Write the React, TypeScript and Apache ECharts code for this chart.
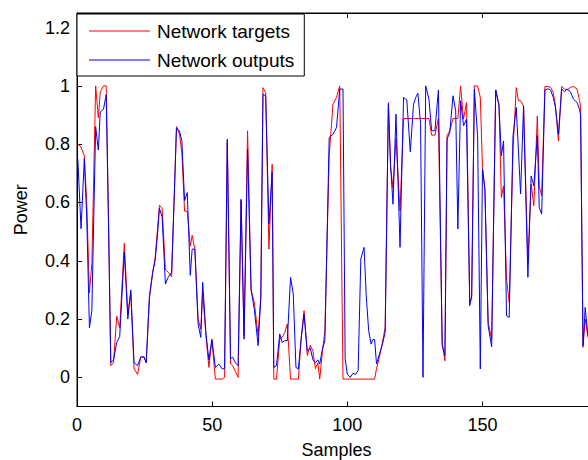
import React, { useEffect, useRef } from "react";
import * as echarts from "echarts";

// Sample positions (x), and the two series
const sampleX = [
  0.3, 1.5, 2.7, 3.6, 4.6, 5.5, 6.9, 7.9, 8.6, 9.8, 10.8, 11.7, 12.5, 13.5, 14.7, 15.8, 17.5, 18.8, 19.9,
  21.1, 22.4, 23.6, 24.8, 25.6, 26.8, 28.0, 28.9, 29.7, 30.5, 31.5, 32.7, 33.8, 35.0, 35.9, 36.8, 37.9,
  38.8, 39.8, 40.8, 41.9, 42.6, 43.6, 44.8, 45.8, 46.5, 47.7, 48.8, 49.9, 51.2, 52.5, 53.7, 54.6, 55.6,
  56.8, 57.6, 58.6, 59.6, 60.7, 61.8, 63.1, 64.4, 65.6, 67.0, 68.0, 68.8, 69.8, 71.0, 72.2, 72.8, 73.8,
  75.0, 75.9, 76.9, 77.8, 79.0, 80.0, 81.0, 81.9, 82.9, 84.0, 85.2, 86.3, 87.3, 88.2, 89.1, 89.8, 90.8,
  91.7, 93.3, 94.7, 96.0, 97.2, 98.4, 99.2, 100.0, 101.1, 102.1, 103.0, 104.0, 105.0, 106.2, 107.0, 107.9,
  108.8, 109.5, 110.1, 110.8, 111.9, 113.0, 114.0, 115.2, 116.0, 116.9, 118.0, 119.5, 120.8, 122.0, 123.3,
  124.5, 125.3, 126.1, 127.1, 128.0, 129.0, 130.2, 131.2, 132.4, 133.7, 135.1, 136.1, 136.9, 137.9, 139.1,
  140.1, 140.9, 141.9, 143.0, 144.1, 145.3, 146.0, 147.0, 148.2, 149.2, 150.0, 150.9, 152.1, 153.4, 154.9,
  156.1, 157.0, 157.8, 158.9, 159.9, 161.3, 162.5, 163.3, 164.1, 165.2, 166.8, 168.0, 169.0, 170.3, 171.0,
  171.9, 173.1, 174.3, 175.2, 176.2, 177.0, 178.1, 179.3, 180.3, 181.3, 182.5, 183.7, 185.0, 185.9, 186.3,
  187.2, 188.0, 189.0, 190.3,
];

const targets = [
  0.8, 0.79, 0.76, 0.6, 0.29, 0.39, 1.0, 0.89, 0.98, 1.0, 1.0, 0.52, 0.04, 0.05, 0.21, 0.17, 0.46, 0.22, 0.29,
  0.03, 0.01, 0.07, 0.07, 0.05, 0.27, 0.36, 0.41, 0.5, 0.59, 0.58, 0.37, 0.36, 0.345, 0.6, 0.86, 0.835,
  0.77, 0.57, 0.57, 0.45, 0.487, 0.44, 0.2, 0.166, 0.29, 0.143, 0.034, 0.13, -0.006, -0.006, -0.006, 0.0, 0.806,
  0.046, 0.04, 0.02, 0.0, 0.606, 0.143, 0.846, 0.3, 0.257, 0.143, 0.28, 0.994, 0.977, 0.44, 0.731, -0.006, -0.006,
  0.131, 0.137, 0.154, 0.183, -0.006, -0.006, -0.006, -0.006, 0.131, 0.229, 0.075, 0.11, 0.09, 0.03, 0.05, -0.006, 0.09,
  0.16, 0.76, 0.937, 0.96, 1.0, -0.006, -0.006, -0.006, -0.006, -0.006, -0.006, -0.006, -0.006, -0.006, -0.006, -0.006,
  -0.006, -0.006, -0.006, 0.03, 0.07, 0.12, 0.171, 0.943, 0.72, 0.65, 0.82, 0.571, 0.888, 0.888, 0.888,
  0.888, 0.888, 0.888, 0.888, 0.888, 0.888, 0.888, 0.831, 0.831, 0.888, 0.12, 0.057, 0.829, 0.846, 0.888,
  0.888, 0.888, 1.0, 0.886, 0.943, 0.257, 0.27, 1.0, 1.0, 0.96, 0.72, 0.646, 0.189, 0.13, 0.986,
  0.937, 0.617, 0.657, 0.337, 0.257, 0.78, 0.994, 0.949, 0.949, 0.931, 0.394, 0.663, 0.589, 0.897, 0.657,
  0.623, 0.998, 0.998, 0.995, 0.977, 0.93, 0.811, 0.998, 0.99, 0.986, 0.995, 0.998, 0.989, 0.95, 0.93,
  0.103, 0.2, 0.14, 0.1,
];

const outputs = [
  0.75, 0.51, 0.75, 0.55, 0.17, 0.23, 0.86, 0.78, 0.91, 0.92, 0.97, 0.5, 0.05, 0.06, 0.12, 0.14, 0.43, 0.2, 0.3,
  0.05, 0.04, 0.07, 0.07, 0.05, 0.28, 0.36, 0.4, 0.48, 0.58, 0.55, 0.32, 0.345, 0.36, 0.6, 0.855, 0.846,
  0.81, 0.606, 0.634, 0.35, 0.44, 0.44, 0.183, 0.137, 0.326, 0.15, 0.06, 0.13, 0.034, 0.046, 0.029, 0.03, 0.817,
  0.063, 0.069, 0.05, 0.04, 0.611, 0.131, 0.783, 0.3, 0.234, 0.109, 0.27, 0.971, 0.966, 0.526, 0.703, 0.034, 0.04,
  0.149, 0.12, 0.126, 0.126, 0.343, 0.286, 0.034, 0.029, 0.131, 0.217, 0.09, 0.1, 0.06, 0.05, 0.06, 0.046, 0.097,
  0.126, 0.823, 0.834, 0.857, 0.989, 0.989, 0.063, 0.011, 0.0, 0.014, 0.01, 0.023, 0.406, 0.446, 0.28, 0.16,
  0.114, 0.13, 0.13, 0.046, 0.08, 0.114, 0.154, 0.937, 0.73, 0.594, 0.903, 0.446, 0.96, 0.952, 0.774,
  0.937, 0.96, 0.975, 0.87, 0.0, 1.0, 0.954, 0.846, 0.846, 0.986, 0.109, 0.074, 0.817, 0.84, 0.966,
  0.914, 0.509, 0.949, 0.863, 0.886, 0.246, 0.28, 0.989, 0.829, 0.029, 0.714, 0.646, 0.177, 0.105, 0.986,
  0.931, 0.76, 0.811, 0.211, 0.206, 0.829, 0.926, 0.78, 0.629, 0.931, 0.343, 0.691, 0.657, 0.829, 0.583,
  0.56, 0.986, 0.99, 0.985, 0.96, 0.926, 0.834, 0.989, 0.98, 0.989, 0.98, 0.954, 0.943, 0.92, 0.9,
  0.109, 0.24, 0.145, 0.1,
];

const yTicks = [0, 0.2, 0.4, 0.6, 0.8, 1, 1.2];
const xTicks = [0, 50, 100, 150];
const seriesNames = ["Network targets", "Network outputs"];

const FONT = "'Liberation Sans', Arial, sans-serif";

export default function App() {
  const ref = useRef<HTMLDivElement>(null);

  useEffect(() => {
    if (!ref.current) return;
    const chart = echarts.init(ref.current, undefined, { renderer: "svg" });
    const tgt = sampleX.map((x, i) => [x, targets[i]]);
    const out = sampleX.map((x, i) => [x, outputs[i]]);

    chart.setOption({
      animation: false,
      backgroundColor: "#ffffff",
      textStyle: { fontFamily: FONT },
      grid: {
        show: true,
        left: 77,
        top: 13,
        right: 4,
        bottom: 53.5,
        outerBoundsMode: "none",
        containLabel: false,
        borderColor: "#000",
        borderWidth: 1,
        backgroundColor: "transparent",
      },
      legend: {
        left: 77,
        top: 14,
        orient: "vertical",
        backgroundColor: "#fff",
        borderColor: "#000",
        borderWidth: 1,
        borderRadius: 0,
        padding: [7, 10, 6, 12],
        icon: "rect",
        itemWidth: 61,
        itemHeight: 1,
        itemGap: 9,
        textStyle: { fontSize: 19, fontFamily: FONT, color: "#000", padding: [0, 0, 0, 2], lineHeight: 20 },
        data: seriesNames,
      },
      xAxis: [
        {
          type: "value",
          min: 0,
          max: 192,
          position: "bottom",
          axisLine: { show: true, onZero: false, lineStyle: { color: "#000", width: 1 } },
          axisTick: { show: true, inside: true, length: 5, customValues: xTicks, lineStyle: { color: "#000" } },
          axisLabel: { customValues: xTicks, fontSize: 18, color: "#000", margin: 9, fontFamily: FONT },
          splitLine: { show: false },
          name: "Samples",
          nameLocation: "middle",
          nameGap: 34,
          nameTextStyle: { fontSize: 18, color: "#000", fontFamily: FONT },
        },
        {
          type: "value",
          min: 0,
          max: 192,
          position: "top",
          axisLine: { show: true, onZero: false, lineStyle: { color: "#000", width: 1 } },
          axisTick: { show: true, inside: true, length: 5, customValues: xTicks, lineStyle: { color: "#000" } },
          axisLabel: { show: false },
          splitLine: { show: false },
        },
      ],
      yAxis: {
        type: "value",
        min: -0.1,
        max: 1.25,
        axisLine: { show: true, onZero: false, lineStyle: { color: "#000", width: 1 } },
        axisTick: { show: true, inside: true, length: 5, customValues: yTicks, lineStyle: { color: "#000" } },
        axisLabel: { customValues: yTicks, fontSize: 18, color: "#000", margin: 7, fontFamily: FONT },
        splitLine: { show: false },
        name: "Power",
        nameLocation: "middle",
        nameGap: 47,
        nameTextStyle: { fontSize: 18, color: "#000", fontFamily: FONT },
      },
      series: [
        {
          name: seriesNames[0],
          type: "line",
          data: tgt,
          symbol: "none",
          showSymbol: false,
          color: "#ff0000",
          lineStyle: { color: "#ff0000", width: 1 },
          z: 2,
        },
        {
          name: seriesNames[1],
          type: "line",
          data: out,
          symbol: "none",
          showSymbol: false,
          color: "#0000ff",
          lineStyle: { color: "#0000ff", width: 1 },
          z: 3,
        },
      ],
    });
    return () => chart.dispose();
  }, []);

  return (
    <div
      ref={ref}
      style={{ position: "fixed", left: 0, top: 0, width: 600, height: 460, background: "#fff" }}
    />
  );
}
